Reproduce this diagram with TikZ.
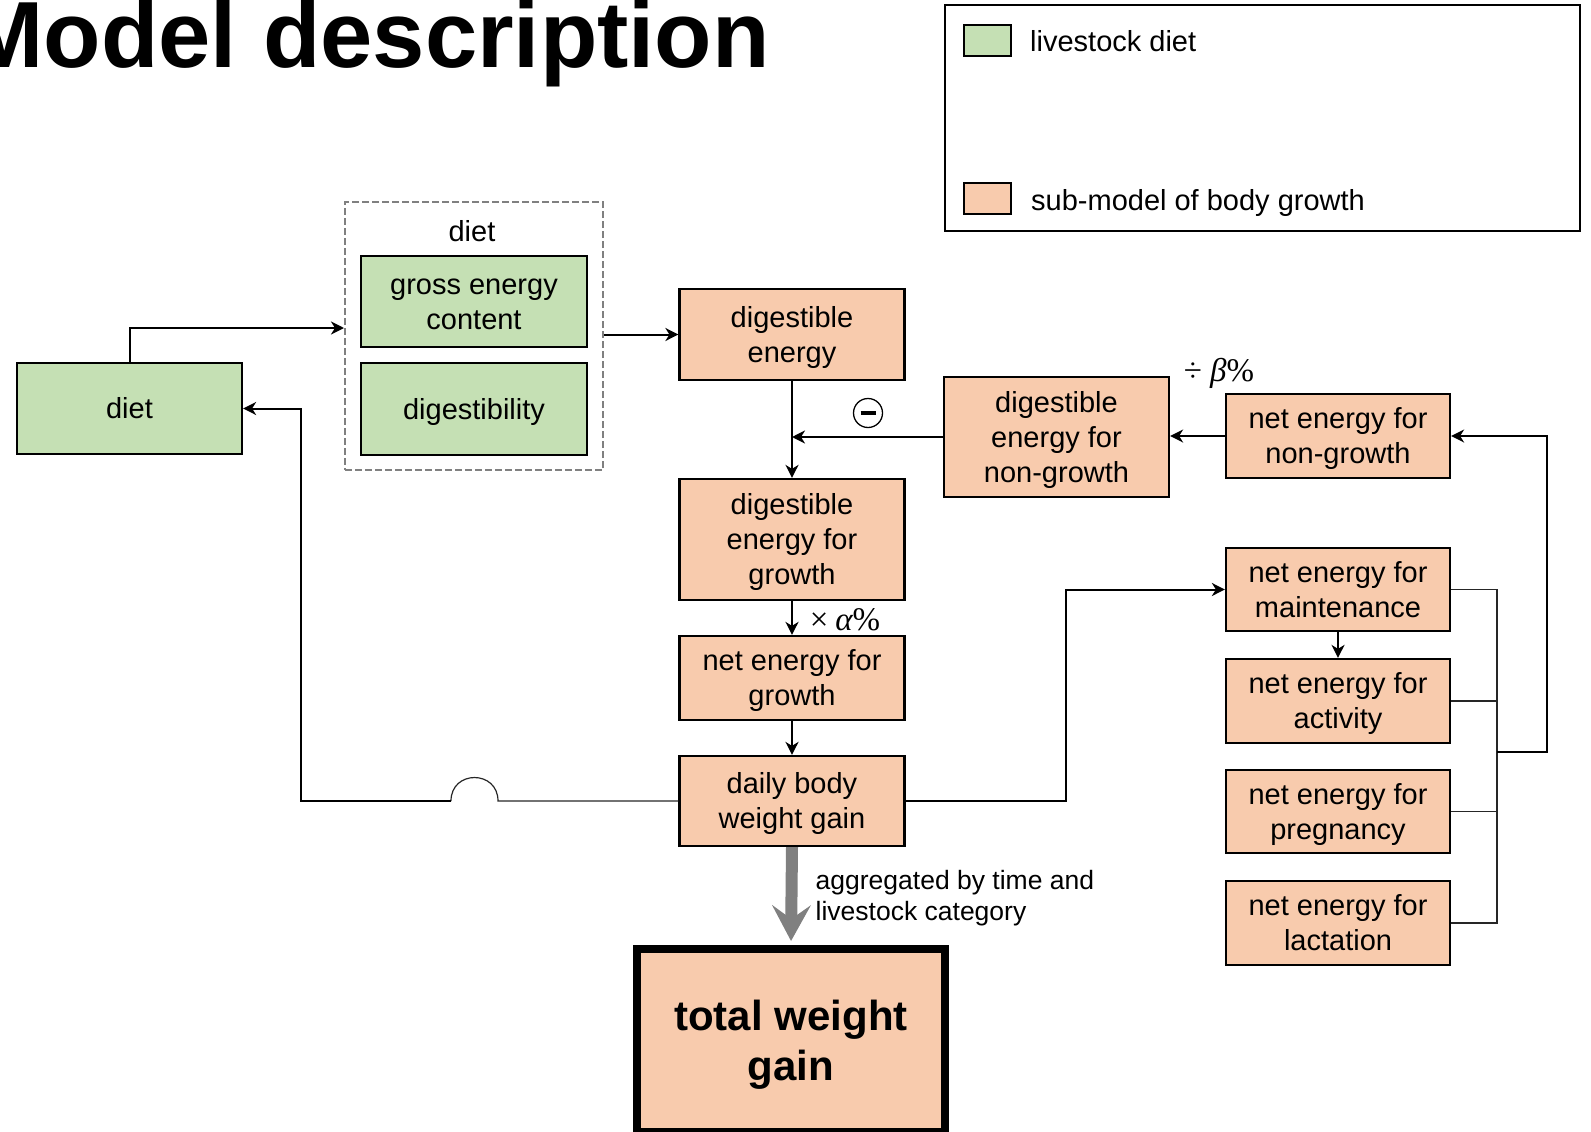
\documentclass[tikz,border=0pt]{standalone}
\usepackage{fontspec}
\setmainfont{Liberation Sans}
\newfontfamily\mfnt{Liberation Serif}
\usetikzlibrary{arrows.meta}
\definecolor{dgreen}{HTML}{C5E0B4}
\definecolor{dorange}{HTML}{F8CBAD}
\definecolor{dgray}{HTML}{808080}
\newcommand\ptop{\rule{0pt}{0.905em}}
\newcommand\pbot{\rule[-0.212em]{0pt}{0.212em}}
\begin{document}
\begin{tikzpicture}[x=1pt,y=-1pt,
  txt/.style={font=\fontsize{29}{35}\selectfont},
  box/.style={draw=black, line width=2.2pt, inner sep=0pt, align=center,
     font=\fontsize{29}{35}\selectfont},
  gbox/.style={box, fill=dgreen},
  obox/.style={box, fill=dorange},
  arr/.style={line width=2pt, -{Stealth[length=13pt,width=13pt,inset=4pt]}},
  thinln/.style={line width=1.2pt, draw=black!85}
]
\useasboundingbox (0,0) rectangle (1591,1132);

% title
\node[anchor=base east, inner sep=0pt, font=\fontsize{94}{100}\selectfont\bfseries] (title) at (770,68) {Model description};

% legend
\node[draw, line width=2.5pt, minimum width=635pt, minimum height=226pt, inner sep=0pt] (legend) at (1262.5,118) {};
\node[draw, line width=2.2pt, fill=dgreen, minimum width=47pt, minimum height=31pt, inner sep=0pt] (lgreen) at (987.5,40.5) {};
\node[txt, anchor=base west, inner sep=0pt] (lgtext) at (1030,52) {livestock diet};
\node[draw, line width=2.2pt, fill=dorange, minimum width=47pt, minimum height=31pt, inner sep=0pt] (lorange) at (987.5,198.5) {};
\node[txt, anchor=base west, inner sep=0pt] (lotext) at (1031,210) {sub-model of body growth};

% diet group
\node[draw=dgray, line width=2pt, dash pattern=on 7pt off 3pt, minimum width=258pt, minimum height=268pt, inner sep=0pt] (dietgroup) at (474,336) {};
\node[txt, inner sep=0pt] (dietlbl) at (472,231.5) {diet};
\node[gbox, minimum width=226pt, minimum height=91pt] (gec) at (474,301.5) {\ptop gross energy\\content\pbot};
\node[gbox, minimum width=226pt, minimum height=92pt] (dig) at (474,409) {\ptop digestibility\pbot};

\node[gbox, minimum width=225pt, minimum height=91pt] (diet) at (129.5,408.5) {\ptop diet\pbot};

% central column
\node[obox, minimum width=225pt, minimum height=91pt] (de) at (792,334.5) {\ptop digestible\\energy\pbot};
\node[obox, minimum width=225pt, minimum height=121pt] (deg) at (792,539.5) {\ptop digestible\\energy for\\growth\pbot};
\node[obox, minimum width=225pt, minimum height=84pt] (neg) at (792,678) {\ptop net energy for\\growth\pbot};
\node[obox, minimum width=225pt, minimum height=90pt] (dbwg) at (792,801) {\ptop daily body\\weight gain\pbot};
\node[draw=black, line width=8pt, fill=dorange, inner sep=0pt, align=center, minimum width=308pt, minimum height=183pt,
      font=\fontsize{42}{50}\selectfont\bfseries] (total) at (791,1040.5) {\ptop total weight\\gain\pbot};

% non-growth
\node[obox, minimum width=225pt, minimum height=120pt] (dengr) at (1056.5,437) {\ptop digestible\\energy for\\non-growth\pbot};
\node[obox, minimum width=224pt, minimum height=84pt] (nengr) at (1338,436) {\ptop net energy for\\non-growth\pbot};

% right column
\node[obox, minimum width=224pt, minimum height=83pt] (nem) at (1338,589.5) {\ptop net energy for\\maintenance\pbot};
\node[obox, minimum width=224pt, minimum height=84pt] (nea) at (1338,701) {\ptop net energy for\\activity\pbot};
\node[obox, minimum width=224pt, minimum height=83pt] (nep) at (1338,811.5) {\ptop net energy for\\pregnancy\pbot};
\node[obox, minimum width=224pt, minimum height=84pt] (nel) at (1338,923) {\ptop net energy for\\lactation\pbot};

% labels
\node[circle, draw, line width=1.3pt, minimum size=29pt, inner sep=0pt] (minus) at (868,413) {\rule[-2pt]{15pt}{4pt}};
\node[inner sep=0pt, font=\fontsize{33}{38}\selectfont\mfnt] (beta) at (1219,373) {÷\hspace{8pt}{\itshape β}\%};
\node[inner sep=0pt, font=\fontsize{33}{38}\selectfont\mfnt] (alpha) at (845,620) {×\hspace{7pt}{\itshape α}\%};
\node[anchor=north west, inner sep=0pt, align=left, font=\fontsize{26.5}{31}\selectfont] (agg) at (815.5,865) {\ptop aggregated by time and\\livestock category};

% connectors
\draw[arr] (diet.north) |- ([yshift=8pt]dietgroup.west);
\draw[arr] (dietgroup.east |- de.west) -- (de.west);
\draw[arr] (de.south) -- (deg.north);
\coordinate (jn) at (de.south |- dengr.west);
\draw[arr] (dengr.west) -- (jn);
\draw[arr] (nengr.west) -- (nengr.west -| dengr.east);
\draw[arr] (deg.south) -- (neg.north);
\draw[arr] (neg.south) -- (dbwg.north);
\draw[arr] (dbwg.east) -- ++(160,0) |- (nem.west);
\draw[arr] (nem.south) -- (nea.north);

\coordinate (brtop) at (1497,589.5);
\coordinate (brbot) at (1497,923);
\coordinate (brmid) at (1497,752);
\draw[thinln] (nem.east) -- (brtop) -- (brbot) -- (nel.east);
\draw[thinln] (nea.east) -- (nea.east -| brtop);
\draw[thinln] (nep.east) -- (nep.east -| brtop);
\draw[arr] (brmid) -- ++(50,0) |- (nengr.east);

\coordinate (hopR) at (498,801);
\coordinate (hopL) at (451,801);
\draw[thinln] (dbwg.west) -- (hopR) .. controls (498,769.7) and (451,769.7) .. (hopL);
\draw[arr] (hopL) -- (301,801) |- (diet.east);

\draw[draw=dgray, line width=12pt, shorten >=4pt,
      -{Stealth[length=36pt,width=39pt,inset=14pt,line width=0pt,fill=dgray]}] (dbwg.south) -- (total.north);
\end{tikzpicture}
\end{document}
